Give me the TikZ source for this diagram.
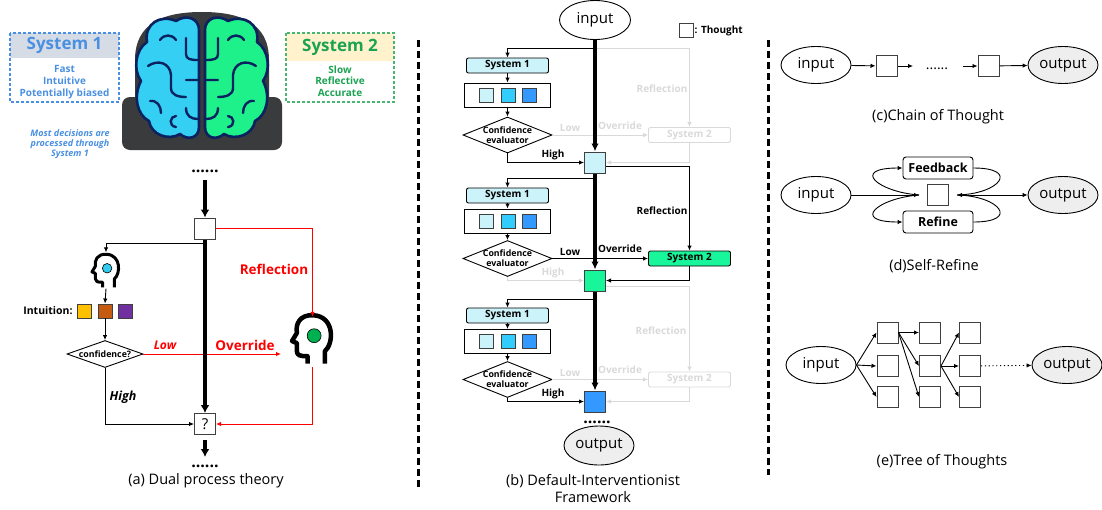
\documentclass[tikz,border=0pt]{standalone}
\usepackage{fontspec}
\setmainfont{Open Sans}
\usetikzlibrary{arrows.meta,shapes.geometric,positioning}

\definecolor{sysblue}{HTML}{4A90E2}
\definecolor{sysgreen}{HTML}{1AA350}
\definecolor{hdrblue}{HTML}{D6DCE5}
\definecolor{hdryellow}{HTML}{FFF2CC}
\definecolor{brainbg}{HTML}{3A3B3D}
\definecolor{navy}{HTML}{0B2260}
\definecolor{lobeblue}{HTML}{35CFF4}
\definecolor{lobegreen}{HTML}{1EF08A}
\definecolor{tlight}{HTML}{CCF2FA}
\definecolor{tcyan}{HTML}{33CCFF}
\definecolor{tblue}{HTML}{3399FF}
\definecolor{tgreen}{HTML}{19F59A}
\definecolor{faded}{HTML}{D9D9D9}
\definecolor{outgrey}{HTML}{EEEEEE}
\definecolor{ired}{HTML}{FF0000}
\definecolor{iyellow}{HTML}{FFC000}
\definecolor{ibrown}{HTML}{C55A11}
\definecolor{ipurple}{HTML}{7030A0}
\definecolor{headcyan}{HTML}{33CCEE}
\definecolor{headgreen}{HTML}{00B050}

\newcommand{\fsz}[2]{\fontsize{#1}{#2}\selectfont}
\newcommand{\brainlobe}[1]{%
  \filldraw[fill=#1, draw=navy, line width=2.6pt, line join=round]
    (199,30) .. controls (199,18) and (186,14) .. (176,21)
    .. controls (160,14) and (144,24) .. (147,42)
    .. controls (135,50) and (133,70) .. (141,81)
    .. controls (133,96) and (137,115) .. (149,121)
    .. controls (151,135) and (169,141) .. (180,134)
    .. controls (188,141) and (199,138) .. (199,127) -- cycle;
  \draw[navy, line width=2.4pt, line cap=round]
    (160,40) .. controls (164,34) and (172,34) .. (176,40)
    (186,38) -- (186,54) .. controls (186,59) and (190,60) .. (198,60)
    (148,66) .. controls (158,59) and (170,63) .. (171,75) -- (171,88) .. controls (171,95) and (178,97) .. (186,97)
    (186,80) -- (198,80)
    (150,101) .. controls (157,100) and (161,106) .. (161,113)
    (176,116) .. controls (170,116) and (168,126) .. (176,127)
    (186,108) .. controls (186,116) and (191,119) .. (198,119);
}

\tikzset{
  pics/headicon/.style args={#1/#2/#3}{code={
    \draw[line width=#2, line join=round, x=#1, y=#1]
      (0.3,-0.6) -- (0.3,-0.3) .. controls (0.52,-0.12) and (0.55,0.55) .. (0.02,0.58)
      .. controls (-0.32,0.6) and (-0.42,0.35) .. (-0.38,0.15) -- (-0.5,-0.05) -- (-0.38,-0.1)
      -- (-0.38,-0.3) .. controls (-0.38,-0.4) and (-0.3,-0.42) .. (-0.12,-0.42) -- (-0.12,-0.6);
    \filldraw[fill=#3, draw=black, line width=0.6pt, x=#1, y=#1] (0.04,0.08) circle (0.17);
  }},
}

\begin{document}
\begin{tikzpicture}[x=1pt, y=-1pt,
    arr/.style={-{Latex[length=5pt,width=4.5pt]}, line width=0.9pt},
    bigarr/.style={-{Latex[length=8pt,width=9pt]}, line width=4pt},
    midarr/.style={-{Latex[length=8pt,width=7.5pt]}, line width=3.2pt},
    thought/.style={draw=black!75, line width=1pt, minimum size=21pt, inner sep=0pt},
    mini/.style={draw=black!75, line width=0.9pt, minimum size=14pt, inner sep=0pt},
    rowbox/.style={draw, line width=0.9pt, minimum width=86pt, minimum height=24pt, inner sep=0pt},
    sysone/.style={draw, line width=0.9pt, rounded corners=2pt, fill=tlight, minimum width=82pt,
      minimum height=15pt, inner sep=0pt, font=\bfseries\fsz{10}{11}},
    sysact/.style={sysone, fill=tgreen},
    sysghost/.style={sysone, draw=faded, fill=none, text=faded},
    judge/.style={diamond, draw, line width=0.9pt, minimum width=89pt, minimum height=36pt, inner sep=0pt},
    lbl/.style={font=\bfseries\fsz{10}{11}},
    live/.style={black},
    ghost/.style={faded},
    io/.style={ellipse, draw, line width=0.9pt, minimum width=70pt, minimum height=37pt, inner sep=0pt,
      font=\fsz{15}{17}},
    fbbox/.style={draw, line width=0.9pt, rounded corners=3pt, minimum width=70pt, minimum height=22pt,
      inner sep=0pt, font=\bfseries\fsz{12.5}{14}},
    caption/.style={font=\fsz{14.5}{17}, align=center},
    dotsep/.style={line width=3pt, dash pattern=on 7pt off 4pt}]
\useasboundingbox (0,0) rectangle (1102,509);

% ---------- (a) dual process theory ----------
\fill[hdrblue] (10,33) rectangle (119,58);
\draw[sysblue, line width=1.1pt, dash pattern=on 3pt off 2pt] (10,33) rectangle (119,102);
\node[text=sysblue, font=\bfseries\fsz{17}{18}] (s1head) at (64.5,45.5) {System 1};
\node[text=sysblue, font=\bfseries\fsz{10}{11.7}, align=center] (s1body) at (64.5,82) {Fast\\Intuitive\\Potentially biased};
\fill[hdryellow] (286,33) rectangle (394,61);
\draw[sysgreen!80, line width=1.1pt, dash pattern=on 3pt off 2pt] (286,33) rectangle (394,102);
\node[text=sysgreen, font=\bfseries\fsz{17}{18}] (s2head) at (340,47) {System 2};
\node[text=sysgreen, font=\bfseries\fsz{10}{11.7}, align=center] (s2body) at (340,81) {Slow\\Reflective\\Accurate};
\node[text=sysblue, font=\bfseries\itshape\fsz{9}{10.2}, align=center] (most) at (70,144) {Most decisions are\\processed through\\System 1};

% brain
\fill[brainbg] (135,100) -- (135,60) .. controls (135,22) and (165,12) .. (202,12)
  .. controls (239,12) and (269,22) .. (269,60) -- (269,100) -- cycle;
\fill[brainbg, rounded corners=8pt] (122,97) rectangle (282,150);
\brainlobe{lobeblue}
\begin{scope}[shift={(404,0)}, xscale=-1]
  \brainlobe{lobegreen}
\end{scope}

\node[font=\bfseries\fsz{16}{16}, anchor=base, inner sep=0pt] (dotsa) at (205,172) {......};
\node[thought] (q) at (205,228.5) {};
\node[thought, font=\fsz{15}{15}] (ans) at (205,424) {?};
\node[minimum width=29pt, minimum height=36pt, inner sep=0pt] (hd1) at (106,270.5) {};
\pic at (hd1) {headicon=28pt/3pt/headcyan};
\node[minimum width=44pt, minimum height=50pt, inner sep=0pt] (hd2) at (312.5,342) {};
\pic at (312.5,339) {headicon=41pt/4.5pt/headgreen};
\node[mini, fill=iyellow] (iy) at (84.5,311) {};
\node[mini, fill=ibrown] (ib) at (105,311) {};
\node[mini, fill=ipurple] (ip) at (125,311) {};
\node[left=1pt of iy, font=\bfseries\fsz{10.5}{12}] (itxt) {Intuition:};
\node[diamond, draw, line width=0.9pt, minimum width=76pt, minimum height=27pt, inner sep=0pt,
  label={[font=\bfseries\fsz{8.8}{10}]center:confidence?}] (cf) at (105,354) {};
\coordinate (br) at (205,243);
\coordinate (ovr) at (281,354);

\draw[bigarr] ([yshift=-8pt]dotsa.south) -- (q.north);
\draw[arr] (br) -| (hd1.north);
\draw[arr] (hd1.south) -- (ib.north);
\draw[arr] (ib.south) -- (cf.north);
\draw[arr] (cf.south) |- (ans.west);
\draw[arr, ired] (cf.east) -- (ovr);
\draw[arr, ired] (q.east) -| (hd2.north);
\draw[arr, ired] (hd2.south) |- (ans.east);
\draw[bigarr] (q.south) -- (ans.north);
\draw[bigarr] ([yshift=-5pt]ans.south) -- ++(0,17);
\node[font=\bfseries\itshape\fsz{12}{14}, ired] (lowa) at (165,345) {Low};
\node[font=\bfseries\fsz{13.5}{15}, ired] (ovra) at (245,345) {Override};
\node[font=\bfseries\fsz{13.5}{15}, ired] (refa) at (274,269) {Reflection};
\node[font=\bfseries\itshape\fsz{12.5}{14}] (higha) at (123,397) {High};
\node[font=\bfseries\fsz{16}{16}, anchor=base, inner sep=0pt] (dotsb) at (205,467) {......};
\node[caption] (capa) at (206,481) {(a) Dual process theory};

\draw[dotsep] (418,40) -- (418,487);
\draw[dotsep] (768,40) -- (768,475);

% ---------- (b) default-interventionist ----------
\node[io, minimum width=71pt, minimum height=39pt] (in) at (595,20) {input};
\node[thought, minimum size=14pt] (leg) at (686,30.5) {};
\node[lbl, right=0pt of leg, inner sep=1pt] (legtxt) {: Thought};

\foreach \i/\yb/\ys/\yr/\yd/\yq/\col/\stwo/\hi/\lo in {
    1/48/65.5/95/135/162.5/tlight/sysghost/live/ghost,
    2/178/195.5/221/258.5/280.5/tgreen/sysact/ghost/live,
    3/299/315.5/341.5/379.5/401.5/tblue/sysghost/live/ghost}{
  \coordinate (b\i) at (595,\yb);
  \node[sysone] (sa\i) at (507.5,\ys) {System 1};
  \node[rowbox] (r\i) at (507.5,\yr) {};
  \node[mini, fill=tlight] (ra\i) at (486,\yr) {};
  \node[mini, fill=tcyan] (rb\i) at (508,\yr) {};
  \node[mini, fill=tblue] (rc\i) at (529,\yr) {};
  \node[judge, label={[font=\bfseries\fsz{8.8}{10}, align=center]center:Confidence\\evaluator}] (d\i) at (507.5,\yd) {};
  \node[\stwo] (sb\i) at (689.5,\yd) {System 2};
  \node[thought, fill=\col] (q\i) at (595,\yq) {};
  \draw[arr] (b\i) -| (sa\i.north);
  \draw[arr] (sa\i) -- (r\i);
  \draw[arr] (r\i) -- (d\i);
  \draw[arr, \lo] (d\i.east) -- (sb\i.west);
  \draw[arr, \lo] (sb\i.south) |- (q\i.east);
  \draw[arr, \hi] (d\i.south) |- (q\i.west);
  \node[lbl, \lo] at (570,\yd-7) {Low};
  \node[lbl, \lo] at (620,\yd-9.5) {Override};
  \node[lbl, \hi] at (553,\yq-8) {High};
}
\draw[arr, ghost] (b1) -| (sb1.north);
\draw[arr] ([yshift=-3.5pt]q1.east) -| (sb2.north);
\draw[arr, ghost] ([yshift=-6pt]q2.east) -| (sb3.north);
\node[lbl, ghost] (refb1) at (662,89) {Reflection};
\node[lbl] (refb2) at (662,211) {Reflection};
\node[lbl, ghost] (refb3) at (661,331) {Reflection};
\draw[midarr] (in) -- (q1);
\draw[midarr] (q1) -- (q2);
\draw[midarr] (q2) -- (q3);
\node[font=\bfseries\fsz{16}{16}, anchor=base, inner sep=0pt] (dotsc) at (597,423) {......};
\node[io, fill=outgrey, minimum width=70pt, minimum height=39pt] (out) at (599,445.5) {output};
\node[caption] (capb) at (593,488.5) {(b) Default-Interventionist\\Framework};

% ---------- (c) chain of thought ----------
\node[io] (ci) at (816,65) {input};
\node[thought] (cq1) at (886.5,66) {};
\node[thought] (cq2) at (988.5,66) {};
\node[io, fill=outgrey] (co) at (1063,65) {output};
\coordinate (cd1) at (913,66);
\coordinate (cd2) at (978,66);
\node[font=\fsz{14}{14}, anchor=base, inner sep=0pt] (cdots) at (937,69) {......};
\draw[arr] (ci) -- (cq1);
\draw[arr] (cq1) -- (cd1);
\draw[arr] ([xshift=-15pt]cd2) -- (cq2);
\draw[arr] (cq2) -- (co);
\node[caption] (capc) at (938,117) {(c)Chain of Thought};

% ---------- (d) self-refine ----------
\node[io] (si) at (816,195) {input};
\node[thought] (sq) at (937.5,194.5) {};
\node[fbbox] (fb) at (938,168) {Feedback};
\node[fbbox] (rf) at (938,222) {Refine};
\node[io, fill=outgrey] (so) at (1063,195) {output};
\coordinate (sl) at (919,195);
\coordinate (sr) at (957,195);
\draw[arr] (si) -- (sl);
\draw[arr] (sl) .. controls (878,192) and (850,168) .. (fb.west);
\draw[arr] (sl) .. controls (878,198) and (850,222) .. (rf.west);
\draw[line width=0.9pt] (fb.east) .. controls (1020,168) and (1000,194) .. (sr);
\draw[line width=0.9pt] (rf.east) .. controls (1020,222) and (1000,196) .. (sr);
\draw[{Latex[length=5pt,width=4.5pt]}-{Latex[length=5pt,width=4.5pt]}, line width=0.9pt] (sr) -- (so);
\node[caption] (capd) at (934,266) {(d)Self-Refine};

% ---------- (e) tree of thoughts ----------
\node[io] (ti) at (821,365) {input};
\foreach \c/\x in {1/887.5,2/930,3/970}
  \foreach \r/\y in {1/332.5,2/366,3/397}
    \node[thought] (t\c\r) at (\x,\y) {};
\node[io, fill=outgrey] (to) at (1067,365) {output};
\foreach \r in {1,2,3} {
  \draw[arr] (ti.east) -- (t1\r.west);
  \draw[arr] (t11.east) -- (t2\r.west);
  \draw[arr] (t22.east) -- (t3\r.west);
}
\draw[-{Latex[length=5pt,width=4.5pt]}, line width=0.9pt, dash pattern=on 1.2pt off 2.6pt] (t32) -- (to);
\node[caption] (cape) at (942,462) {(e)Tree of Thoughts};
\end{tikzpicture}
\end{document}
